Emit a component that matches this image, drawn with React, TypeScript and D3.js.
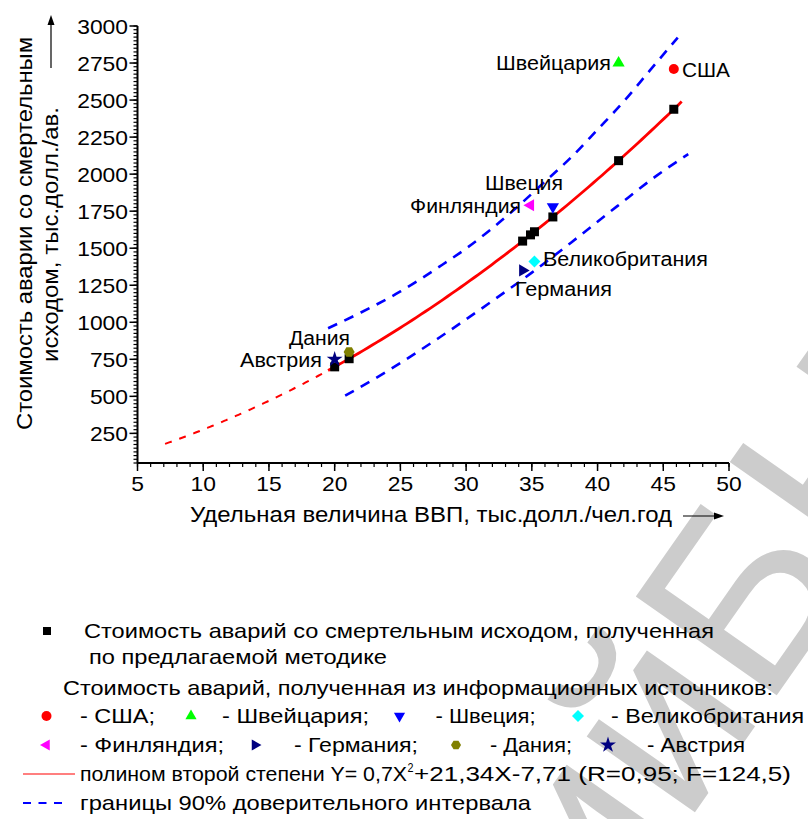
import React from 'react';
import * as d3 from 'd3';

// ---- data -------------------------------------------------------------
const xTicks = [5, 10, 15, 20, 25, 30, 35, 40, 45, 50];
const yTicks = [250, 500, 750, 1000, 1250, 1500, 1750, 2000, 2250, 2500, 2750, 3000];

// GDP per capita of the countries and the cost computed by the proposed method
const modelGdp = [20.0, 21.1, 34.3, 34.9, 35.2, 36.6, 41.6, 45.8];
const modelCost = [699, 754, 1548, 1590, 1611, 1711, 2091, 2438];

// cost taken from information sources
const countries = ['США', 'Швейцария', 'Швеция', 'Великобритания', 'Финляндия', 'Германия', 'Дания', 'Австрия'];
const srcGdp = [45.8, 41.6, 36.6, 35.2, 34.9, 34.3, 21.1, 20.0];
const srcCost = [2710, 2750, 1780, 1410, 1790, 1350, 800, 750];

// second-degree polynomial Y = a·X² + b·X + c
const coefA = 0.7;
const coefB = 21.34;
const coefC = -7.71;
const fitRange = [19.5, 46.4];
const extrapRange = [7.1, 19.5];

// 90% confidence band
const upperX = [19.5, 22, 25, 28, 30, 32, 34, 36, 38, 40, 42, 44, 46.1];
const upperY = [960, 1066, 1208, 1377, 1498, 1635, 1787, 1950, 2114, 2301, 2491, 2702, 2922];
const lowerX = [20.8, 24, 28, 32, 35, 38, 41.5, 44.5, 46.9];
const lowerY = [504, 670, 899, 1144, 1335, 1539, 1784, 1990, 2135];

// ---- layout -----------------------------------------------------------
const W = 808;
const H = 819;
const FONT = '"Liberation Sans", Arial, Helvetica, sans-serif';

const x = d3.scaleLinear().domain([5, 50]).range([137.5, 729]);
const y = d3.scaleLinear().domain([50, 3000]).range([463, 26]);

const poly = (v: number) => coefA * v * v + coefB * v + coefC;

type MarkerKind = 'square' | 'circle' | 'triUp' | 'triDown' | 'triLeft' | 'triRight' | 'diamond' | 'hexagon' | 'star';

const countryMarker: MarkerKind[] = ['circle', 'triUp', 'triDown', 'diamond', 'triLeft', 'triRight', 'hexagon', 'star'];
const countryColor = ['#ff0000', '#00ff00', '#0000ff', '#00ffff', '#ff00ff', '#000080', '#808000', '#000080'];

// label placement for each country: [x, baseline, anchor, width]
const labelPos: [number, number, string, number][] = [
  [682, 77, 'start', 48],
  [611, 70, 'end', 115],
  [485, 190, 'start', 78],
  [543, 265.5, 'start', 165],
  [521, 213, 'end', 111],
  [515, 296, 'start', 97],
  [289, 345, 'start', 61],
  [322, 367, 'end', 82],
];

function markerPath(kind: MarkerKind, s: number): string {
  const sym = d3.symbol();
  switch (kind) {
    case 'square':
      return sym.type(d3.symbolSquare).size(s * s)() as string;
    case 'circle':
      return sym.type(d3.symbolCircle).size((Math.PI * s * s) / 4)() as string;
    case 'diamond':
      return sym.type(d3.symbolSquare).size((s * s) / 2)() as string;
    case 'star':
      return sym.type(d3.symbolStar).size(s * s * 0.55)() as string;
    case 'hexagon': {
      const r = s / 2;
      const pts: [number, number][] = d3.range(6).map((i) => {
        const a = (Math.PI / 3) * i;
        return [r * Math.cos(a), r * Math.sin(a)];
      });
      return (d3.line()(pts) as string) + 'Z';
    }
    default:
      return sym.type(d3.symbolTriangle).size(s * s * 0.45)() as string;
  }
}

function markerRotation(kind: MarkerKind): number {
  if (kind === 'triDown') return 180;
  if (kind === 'triLeft') return -90;
  if (kind === 'triRight') return 90;
  if (kind === 'diamond') return 45;
  return 0;
}

function Marker({ kind, cx, cy, s, color }: { kind: MarkerKind; cx: number; cy: number; s: number; color: string }) {
  return (
    <path
      d={markerPath(kind, s)}
      transform={`translate(${cx},${cy}) rotate(${markerRotation(kind)})`}
      fill={color}
      stroke="none"
    />
  );
}

// text fitted to a given width
function T({
  x: tx,
  y: ty,
  w,
  size = 20,
  anchor = 'start',
  fill = '#000',
  children,
}: {
  x: number;
  y: number;
  w?: number;
  size?: number;
  anchor?: string;
  fill?: string;
  children: React.ReactNode;
}) {
  let sx = tx;
  if (w !== undefined) {
    if (anchor === 'end') sx = tx - w;
    else if (anchor === 'middle') sx = tx - w / 2;
  }
  return (
    <text
      x={sx}
      y={ty}
      fontSize={size}
      fill={fill}
      textAnchor={w !== undefined ? 'start' : anchor}
      textLength={w}
      lengthAdjust={w !== undefined ? 'spacingAndGlyphs' : undefined}
    >
      {children}
    </text>
  );
}

export default function App() {
  const lineGen = d3
    .line<[number, number]>()
    .x((d) => x(d[0]))
    .y((d) => y(d[1]));
  const smooth = d3
    .line<[number, number]>()
    .x((d) => x(d[0]))
    .y((d) => y(d[1]))
    .curve(d3.curveMonotoneX);

  const sample = (r: number[]) => d3.range(r[0], r[1] + 1e-9, (r[1] - r[0]) / 80).map((v) => [v, poly(v)] as [number, number]);

  const fitPath = lineGen(sample(fitRange)) as string;
  const extrapPath = lineGen(sample(extrapRange)) as string;
  const upperPath = smooth(upperX.map((v, i) => [v, upperY[i]] as [number, number])) as string;
  const lowerPath = smooth(lowerX.map((v, i) => [v, lowerY[i]] as [number, number])) as string;

  const xMinor = d3.range(5, 50.001, 1);
  const yMinor = d3.range(50, 3000.001, 25);

  const x0 = x(5);
  const yBase = y(50);
  const digitW = 12.7;

  return (
    <svg
      width={W}
      height={H}
      viewBox={`0 0 ${W} ${H}`}
      style={{ position: 'absolute', left: 0, top: 0, background: '#fff' }}
      fontFamily={FONT}
    >
      <rect width={W} height={H} fill="#fff" />

      {/* watermark */}
      <g transform="translate(765,712) rotate(-55)">
        <text x={0} y={0} fontSize={250} fill="#cccccc" textAnchor="end">
          Репозиторий{' '}
        </text>
        <text x={0} y={0} fontSize={250} fill="#cccccc">
          БНТУ
        </text>
      </g>

      {/* axes */}
      <line x1={x0} x2={x0} y1={y(3000)} y2={yBase} stroke="#000" strokeWidth={2} />
      <line x1={x0} x2={x(50)} y1={yBase} y2={yBase} stroke="#000" strokeWidth={2} />

      {yMinor.map((v) => (
        <line key={'ym' + v} x1={x0 - 4} x2={x0} y1={y(v)} y2={y(v)} stroke="#000" strokeWidth={1.2} />
      ))}
      {yTicks.map((v) => (
        <g key={'yt' + v}>
          <line x1={x0 - 8} x2={x0} y1={y(v)} y2={y(v)} stroke="#000" strokeWidth={1.5} />
          <T x={128} y={y(v) + 7.5} w={String(v).length * digitW} anchor="end" size={21}>
            {String(v)}
          </T>
        </g>
      ))}
      {xMinor.map((v) => (
        <line key={'xm' + v} x1={x(v)} x2={x(v)} y1={yBase} y2={yBase + 4} stroke="#000" strokeWidth={1.2} />
      ))}
      {xTicks.map((v) => (
        <g key={'xt' + v}>
          <line x1={x(v)} x2={x(v)} y1={yBase} y2={yBase + 8} stroke="#000" strokeWidth={1.5} />
          <T x={x(v)} y={490.5} w={String(v).length * digitW} anchor="middle" size={21}>
            {String(v)}
          </T>
        </g>
      ))}

      {/* axis titles */}
      <T x={190} y={522} w={482} size={21.5}>
        Удельная величина ВВП, тыс.долл./чел.год
      </T>
      <line x1={683} x2={716} y1={516} y2={516} stroke="#000" strokeWidth={1.2} />
      <path d="M724,516 L714,512.5 L714,519.5 Z" fill="#000" />

      <g transform="translate(32,430) rotate(-90)">
        <T x={0} y={0} w={393} size={21.5}>
          Стоимость аварии со смертельным
        </T>
      </g>
      <g transform="translate(58,362) rotate(-90)">
        <T x={0} y={0} w={255} size={21.5}>
          исходом, тыс.долл./ав.
        </T>
      </g>
      <line x1={51} x2={51} y1={68} y2={24} stroke="#000" strokeWidth={1.2} />
      <path d="M51,15 L47.5,25 L54.5,25 Z" fill="#000" />

      {/* confidence band */}
      <path d={upperPath} fill="none" stroke="#0000ff" strokeWidth={2.6} strokeDasharray="10,8" />
      <path d={lowerPath} fill="none" stroke="#0000ff" strokeWidth={2.6} strokeDasharray="10,8" />

      {/* fitted polynomial */}
      <path d={extrapPath} fill="none" stroke="#ff0000" strokeWidth={2} strokeDasharray="7,8" />
      <path d={fitPath} fill="none" stroke="#ff0000" strokeWidth={2.8} />

      {/* proposed method */}
      {modelGdp.map((g, i) => (
        <Marker key={'m' + i} kind="square" cx={x(g)} cy={y(modelCost[i])} s={9} color="#000" />
      ))}

      {/* information sources */}
      {srcGdp.map((g, i) => (
        <Marker
          key={'s' + i}
          kind={countryMarker[i]}
          cx={x(g)}
          cy={y(srcCost[i])}
          s={countryMarker[i] === 'circle' ? 10 : countryMarker[i] === 'hexagon' ? 11 : 12}
          color={countryColor[i]}
        />
      ))}
      {countries.map((c, i) => (
        <T key={'l' + i} x={labelPos[i][0]} y={labelPos[i][1]} w={labelPos[i][3]} anchor={labelPos[i][2]} size={20}>
          {c}
        </T>
      ))}

      {/* legend */}
      <Marker kind="square" cx={47} cy={631} s={8} color="#000" />
      <T x={84} y={638} w={630} size={21}>
        Стоимость аварий со смертельным исходом, полученная
      </T>
      <T x={89} y={664} w={298} size={21}>
        по предлагаемой методике
      </T>
      <T x={63} y={695} w={710} size={21}>
        Стоимость аварий, полученная из информационных источников:
      </T>

      <Marker kind="circle" cx={46.5} cy={716} s={10} color="#ff0000" />
      <T x={80} y={723} w={75} size={21}>- США;</T>
      <Marker kind="triUp" cx={191} cy={716} s={11} color="#00ff00" />
      <T x={222} y={723} w={147} size={21}>- Швейцария;</T>
      <Marker kind="triDown" cx={399.5} cy={716} s={11} color="#0000ff" />
      <T x={435.5} y={723} w={100} size={21}>- Швеция;</T>
      <Marker kind="diamond" cx={578} cy={716} s={12} color="#00ffff" />
      <T x={611} y={723} w={193} size={21}>- Великобритания</T>

      <Marker kind="triLeft" cx={46.5} cy={745} s={11} color="#ff00ff" />
      <T x={80} y={752} w={144} size={21}>- Финляндия;</T>
      <Marker kind="triRight" cx={255} cy={745} s={11} color="#000080" />
      <T x={294} y={752} w={124} size={21}>- Германия;</T>
      <Marker kind="hexagon" cx={456} cy={745} s={10} color="#808000" />
      <T x={490} y={752} w={82} size={21}>- Дания;</T>
      <Marker kind="star" cx={608} cy={745} s={12} color="#000080" />
      <T x={647} y={752} w={98} size={21}>- Австрия</T>

      <line x1={23} x2={75} y1={774} y2={774} stroke="#ff0000" strokeWidth={1.2} />
      <T x={80} y={781} w={327} size={21}>
        полином второй степени Y= 0,7X
      </T>
      <T x={407.5} y={772} w={6} size={12}>
        2
      </T>
      <T x={414} y={781} w={377} size={21}>
        +21,34X-7,71 (R=0,95; F=124,5)
      </T>

      <line x1={23} x2={67} y1={803} y2={803} stroke="#0000ff" strokeWidth={2} strokeDasharray="8,7.5" />
      <T x={80} y={810} w={451} size={21}>
        границы 90% доверительного интервала
      </T>
    </svg>
  );
}
